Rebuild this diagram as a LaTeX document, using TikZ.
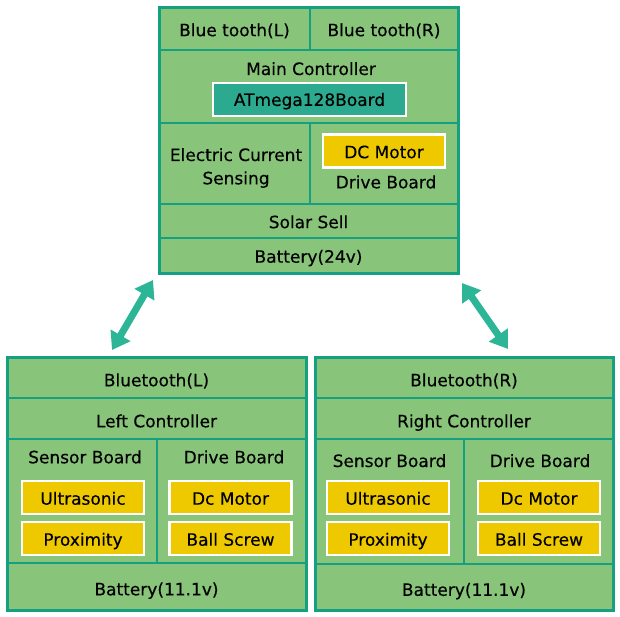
\documentclass[tikz,border=0pt]{standalone}
\usepackage{fontspec}
\setmainfont{DejaVu Sans}
\newfontfamily\labelfont{DejaVu Sans}[FakeBold=0.3]
\usetikzlibrary{arrows.meta}
\definecolor{cellgreen}{HTML}{88C47A}
\definecolor{edgeteal}{HTML}{15A082}
\definecolor{partyellow}{HTML}{EEC900}
\definecolor{boardteal}{HTML}{2BAA8F}
\definecolor{arrowteal}{HTML}{2CB596}
\tikzset{
  txt/.style={font=\labelfont\fontsize{17}{24}\selectfont},
  cell/.style={txt, draw=edgeteal, fill=cellgreen, line width=2.6pt, inner sep=0pt, align=center, text height=14.4pt, text depth=0pt},
  cellb/.style={cell, text height=17.6pt},
  part/.style={txt, draw=white, fill=partyellow, line width=2.4pt, inner sep=0pt, minimum width=122pt, minimum height=33pt, text height=14.4pt, text depth=0pt},
  board/.style={txt, draw=white, fill=boardteal, line width=2.4pt, inner sep=0pt, text height=12.8pt, text depth=0pt},
  lbl/.style={txt, inner sep=0pt, anchor=base},
  outer/.style={draw=edgeteal, line width=3pt},
  link/.style={draw=arrowteal, line width=7pt, {Triangle[width=22pt,length=17pt]}-{Triangle[width=22pt,length=17pt]}}
}
\begin{document}
\begin{tikzpicture}[x=1pt,y=-1pt]
\useasboundingbox[fill=white] (0,0) rectangle (620,617);
% ---- top box ----
\node[cell, minimum width=151pt, minimum height=42pt] (btL) at (234.5,29) {Blue tooth(L)};
\node[cell, minimum width=148pt, minimum height=42pt] (btR) at (384,29) {Blue tooth(R)};
\node[cell, minimum width=299pt, minimum height=73pt] (main) at (308.5,86.5) {};
\node[lbl] (mainlbl) at (311,75) {Main Controller};
\node[board, minimum width=193pt, minimum height=33pt] (atmega) at (309.5,99.5) {ATmega128Board};
\node[cell, minimum width=151pt, minimum height=81pt] (ecs) at (234.5,163.5) {};
\node[lbl] (ecslbl1) at (236,161) {Electric Current};
\node[lbl] (ecslbl2) at (236,184.3) {Sensing};
\node[cell, minimum width=148pt, minimum height=81pt] (drv) at (384,163.5) {};
\node[part] (dcm) at (384,151) {DC Motor};
\node[lbl] (drvlbl) at (386,188.3) {Drive Board};
\node[cell, minimum width=299pt, minimum height=34pt] (solar) at (308.5,221) {Solar Sell};
\node[cell, minimum width=299pt, minimum height=35pt] (batt) at (308.5,255.5) {Battery(24v)};
\draw[outer] (159,8) rectangle (458,273);
% ---- left box ----
\node[cellb, minimum width=299pt, minimum height=41pt] (lbt) at (156.5,377.5) {Bluetooth(L)};
\node[cellb, minimum width=299pt, minimum height=41pt] (lctrl) at (156.5,418.5) {Left Controller};
\node[cell, minimum width=150pt, minimum height=124pt] (lsens) at (82,501) {};
\node[cell, minimum width=149pt, minimum height=124pt] (ldrv) at (231.5,501) {};
\node[lbl] (lsenslbl) at (85,463.3) {Sensor Board};
\node[lbl] (ldrvlbl) at (234,463.3) {Drive Board};
\node[part] (lult) at (83,497.5) {Ultrasonic};
\node[part] (lprox) at (83,538.5) {Proximity};
\node[part] (ldc) at (230.5,497.5) {Dc Motor};
\node[part] (lball) at (230.5,538.5) {Ball Screw};
\node[cellb, minimum width=299pt, minimum height=47pt] (lbatt) at (156.5,586.5) {Battery(11.1v)};
\draw[outer] (7,357) rectangle (306,610);
% ---- right box ----
\node[cellb, minimum width=298pt, minimum height=41pt] (rbt) at (464,377.5) {Bluetooth(R)};
\node[cellb, minimum width=298pt, minimum height=41pt] (rctrl) at (464,418.5) {Right Controller};
\node[cell, minimum width=149pt, minimum height=125pt] (rsens) at (389.5,501.5) {};
\node[cell, minimum width=149pt, minimum height=125pt] (rdrv) at (538.5,501.5) {};
\node[lbl] (rsenslbl) at (389.5,467) {Sensor Board};
\node[lbl] (rdrvlbl) at (540,467) {Drive Board};
\node[part] (rult) at (388,497.5) {Ultrasonic};
\node[part] (rprox) at (388,538.5) {Proximity};
\node[part] (rdc) at (539,497.5) {Dc Motor};
\node[part] (rball) at (539,538.5) {Ball Screw};
\node[cellb, minimum width=298pt, minimum height=46pt] (rbatt) at (464,587) {Battery(11.1v)};
\draw[outer] (315,357) rectangle (613,610);
% ---- links ----
\coordinate (la) at (153,280);
\coordinate (lb) at (112,350);
\coordinate (ra) at (462,283);
\coordinate (rb) at (508,349);
\draw[link] (la) -- (lb);
\draw[link] (ra) -- (rb);
\end{tikzpicture}
\end{document}
